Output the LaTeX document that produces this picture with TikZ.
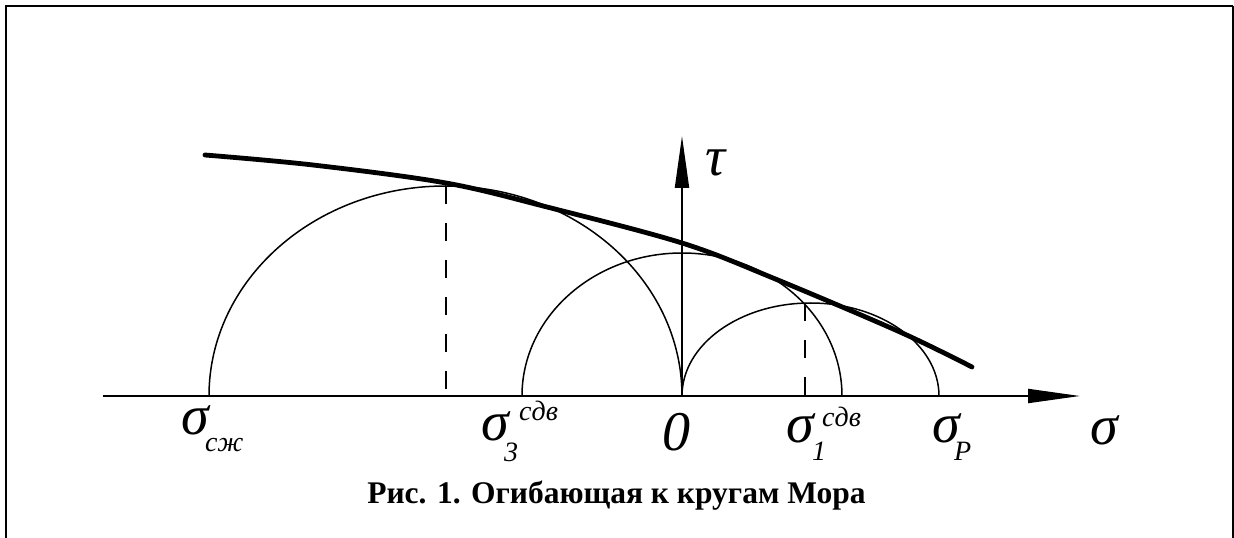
\documentclass[tikz,border=0pt]{standalone}
\usepackage{fontspec}
\setmainfont{Liberation Serif}
\usetikzlibrary{arrows.meta, positioning}

\begin{document}
\begin{tikzpicture}[x=1pt, y=1pt,
    axis/.style={line width=2pt, -{Triangle[length=52pt, width=14pt]}},
    circ/.style={line width=1.5pt},
    dsh/.style={line width=2pt, dash pattern=on 18pt off 19pt},
    env/.style={line width=4.8pt, line cap=round},
    lbl/.style={inner sep=0pt, anchor=base, font=\fontsize{56}{60}\selectfont\itshape},
    idx/.style={inner sep=0pt, anchor=base west, font=\fontsize{28}{30}\selectfont\itshape}]
  \useasboundingbox (-682,-142) rectangle (552,396);
  \draw[line width=2pt] (-676,-142) -- (-676,390) -- (551,390);
  \draw[line width=1.3pt] (551,390) -- (551,-142);

  \coordinate (O) at (0,0);
  \coordinate (xs) at (-579,0);
  \coordinate (xe) at (398,0);
  \coordinate (ye) at (0,260);
  \draw[axis] (xs) -- (xe);
  \draw[axis] (O) -- (ye);

  \draw[circ] (-473,0) arc[start angle=180, end angle=0, x radius=236.5, y radius=210];
  \draw[circ] (-160,0) arc[start angle=180, end angle=0, x radius=160, y radius=143];
  \draw[circ] (O) arc[start angle=180, end angle=0, x radius=128.5, y radius=93];
  \draw[dsh] (-236,210) -- (-236,0);
  \draw[dsh] (123,93) -- (123,0);

  \draw[env] plot[smooth, tension=0.55] coordinates {(-477,241) (-369,231) (-236,213)
    (-135,189) (0,153) (91,118) (218,64) (290,29)};

  \node[lbl] (tau) at (34,220) {τ};
  \node[lbl] (sig) at (422,-48) {σ};
  \node[lbl] (zero) at (-5,-54) {0};
  \node[lbl] (scom) at (-487,-38) {σ};
  \node[idx] (scomi) at ([shift={(10,-17)}]scom.base) {сж};
  \node[lbl] (s3) at (-187,-44) {σ};
  \node[idx] (s3i) at ([shift={(9,-21)}]s3.base) {3};
  \node[idx] (s3s) at ([shift={(24,20)}]s3.base) {сдв};
  \node[lbl] (s1) at (118,-46) {σ};
  \node[idx] (s1i) at ([shift={(12,-18)}]s1.base) {1};
  \node[idx] (s1s) at ([shift={(22,16)}]s1.base) {сдв};
  \node[lbl] (sp) at (264,-46) {σ};
  \node[idx] (spi) at ([shift={(8,-18)}]sp.base) {P};

  \node[inner sep=0pt, anchor=base, font=\fontsize{31.5}{34}\selectfont\bfseries] (cap) at (-65.5,-107)
    {Рис. 1. Огибающая к кругам Мора};
\end{tikzpicture}
\end{document}
